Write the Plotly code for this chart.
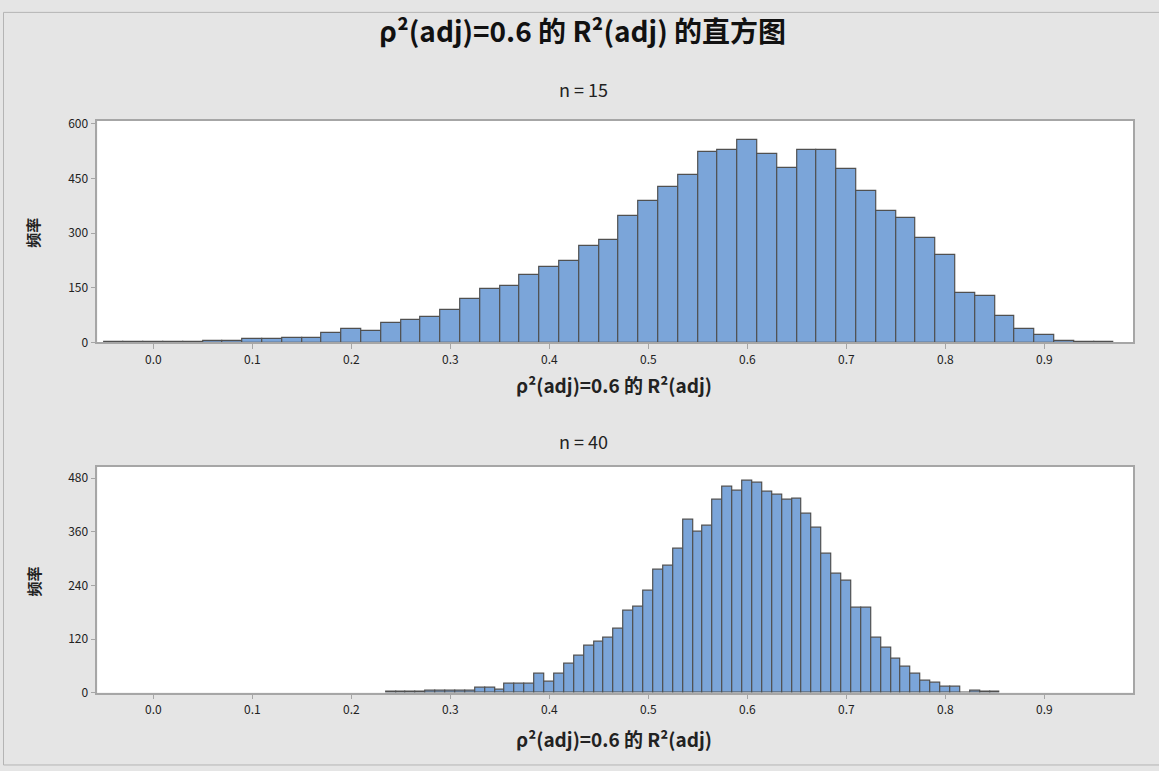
import plotly.graph_objects as go

# ---------------- data ----------------
bins_n15 = [-0.04, -0.02, 0.00, 0.02, 0.04, 0.06, 0.08, 0.10, 0.12, 0.14, 0.16, 0.18,
            0.20, 0.22, 0.24, 0.26, 0.28, 0.30, 0.32, 0.34, 0.36, 0.38, 0.40, 0.42,
            0.44, 0.46, 0.48, 0.50, 0.52, 0.54, 0.56, 0.58, 0.60, 0.62, 0.64, 0.66,
            0.68, 0.70, 0.72, 0.74, 0.76, 0.78, 0.80, 0.82, 0.84, 0.86, 0.88, 0.90,
            0.92, 0.94, 0.96]
counts_n15 = [1, 1, 1, 1, 1, 4, 4, 9, 9, 13, 13, 26,
              37, 31, 54, 63, 69, 90, 121, 148, 154, 186, 208, 223,
              266, 282, 346, 389, 428, 459, 523, 529, 556, 518, 480, 529,
              529, 476, 416, 362, 341, 288, 239, 137, 128, 74, 36, 21,
              4, 3, 1]

bins_n40 = [0.24, 0.25, 0.26, 0.27, 0.28, 0.29, 0.30, 0.31, 0.32, 0.33, 0.34, 0.35,
            0.36, 0.37, 0.38, 0.39, 0.40, 0.41, 0.42, 0.43, 0.44, 0.45, 0.46, 0.47,
            0.48, 0.49, 0.50, 0.51, 0.52, 0.53, 0.54, 0.55, 0.56, 0.57, 0.58, 0.59,
            0.60, 0.61, 0.62, 0.63, 0.64, 0.65, 0.66, 0.67, 0.68, 0.69, 0.70, 0.71,
            0.72, 0.73, 0.74, 0.75, 0.76, 0.77, 0.78, 0.79, 0.80, 0.81, 0.82, 0.83,
            0.84, 0.85]
counts_n40 = [1, 1, 1, 1, 4, 4, 4, 4, 4, 11, 11, 7,
              20, 20, 20, 43, 24, 43, 65, 83, 105, 113, 122, 144,
              184, 193, 229, 276, 285, 321, 387, 360, 373, 431, 460, 453,
              474, 471, 449, 444, 431, 435, 400, 369, 312, 265, 251, 189,
              189, 123, 100, 75, 57, 43, 26, 21, 12, 12, 0, 3,
              1, 1]

x_ticks = [0.0, 0.1, 0.2, 0.3, 0.4, 0.5, 0.6, 0.7, 0.8, 0.9]
x_ticklabels = ["0.0", "0.1", "0.2", "0.3", "0.4", "0.5", "0.6", "0.7", "0.8", "0.9"]
y_ticks_n15 = [0, 150, 300, 450, 600]
y_ticks_n40 = [0, 120, 240, 360, 480]

title_text = "ρ²(adj)=0.6 的 R²(adj) 的直方图"
sub1 = "n = 15"
sub2 = "n = 40"
x_title = "ρ²(adj)=0.6 的 R²(adj)"
y_title = "频率"

# ---------------- style ----------------
W, H = 1159, 771
FONT = "Noto Sans CJK SC"
FILL = "#7BA5D9"
EDGE = "#505050"
FRAME = "#A6A6A6"
BG = "#E5E5E5"
TXT = "#222222"


def fx(p):
    return p / W


def fy(p):
    return 1 - p / H


fig = go.Figure()
fig.add_trace(go.Bar(x=bins_n15, y=counts_n15, width=0.02,
                     marker=dict(color=FILL, line=dict(color=EDGE, width=1.2)),
                     xaxis="x", yaxis="y", showlegend=False, hoverinfo="x+y"))
fig.add_trace(go.Bar(x=bins_n40, y=counts_n40, width=0.01,
                     marker=dict(color=FILL, line=dict(color=EDGE, width=1.2)),
                     xaxis="x2", yaxis="y2", showlegend=False, hoverinfo="x+y"))

xrange = [-0.0566, 0.9896]
axis_common = dict(showline=True, linecolor=FRAME, linewidth=1.5, mirror=True,
                   ticks="outside", ticklen=5, tickcolor=FRAME, tickwidth=1,
                   showgrid=False, zeroline=False,
                   tickfont=dict(family=FONT, size=12, color=TXT))

fig.update_layout(
    width=W, height=H,
    margin=dict(l=0, r=0, t=0, b=0),
    paper_bgcolor=BG,
    plot_bgcolor="white",
    bargap=0,
    font=dict(family=FONT, color=TXT),
    xaxis=dict(domain=[fx(97.3), fx(1133)], range=xrange, anchor="y",
               tickvals=x_ticks, ticktext=x_ticklabels, **axis_common),
    yaxis=dict(domain=[fy(341.7), fy(116)], range=[0, 608], anchor="x",
               tickvals=y_ticks_n15, **axis_common),
    xaxis2=dict(domain=[fx(97.3), fx(1133)], range=xrange, anchor="y2",
                tickvals=x_ticks, ticktext=x_ticklabels, **axis_common),
    yaxis2=dict(domain=[fy(698.3), fy(468.3)], range=[0, 505.7], anchor="x2",
                tickvals=y_ticks_n40, **axis_common),
    shapes=[dict(type="rect", xref="paper", yref="paper", layer="above",
                 x0=fx(3.5), x1=fx(1160), y0=fy(772), y1=fy(5.5),
                 fillcolor="rgba(0,0,0,0)", line=dict(color="#B4B4B4", width=1))],
    annotations=[
        dict(text="<b>" + title_text + "</b>", x=fx(582), y=fy(33), xref="paper", yref="paper",
             showarrow=False, xanchor="center", yanchor="middle",
             font=dict(family=FONT, size=28, color="#111111"), yshift=9),
        dict(text=sub1, x=fx(583), y=fy(84), xref="paper", yref="paper",
             showarrow=False, xanchor="center", yanchor="middle",
             font=dict(family=FONT, size=18, color=TXT)),
        dict(text=sub2, x=fx(583), y=fy(442), xref="paper", yref="paper",
             showarrow=False, xanchor="center", yanchor="middle",
             font=dict(family=FONT, size=18, color=TXT)),
        dict(text="<b>" + x_title + "</b>", x=fx(614), y=fy(384), xref="paper", yref="paper",
             showarrow=False, xanchor="center", yanchor="middle",
             font=dict(family=FONT, size=19, color=TXT)),
        dict(text="<b>" + x_title + "</b>", x=fx(614), y=fy(745), xref="paper", yref="paper",
             showarrow=False, xanchor="center", yanchor="middle",
             font=dict(family=FONT, size=19, color=TXT)),
        dict(text="<b>" + y_title + "</b>", x=fx(33), y=fy(230), xref="paper", yref="paper",
             showarrow=False, xanchor="center", yanchor="middle", textangle=-90,
             font=dict(family=FONT, size=15, color=TXT)),
        dict(text="<b>" + y_title + "</b>", x=fx(33), y=fy(585), xref="paper", yref="paper",
             showarrow=False, xanchor="center", yanchor="middle", textangle=-90,
             font=dict(family=FONT, size=15, color=TXT)),
    ],
)

fig.write_html("out.html", config={"displayModeBar": False},
               post_script="document.body.style.margin='0';document.body.style.overflow='hidden';")
